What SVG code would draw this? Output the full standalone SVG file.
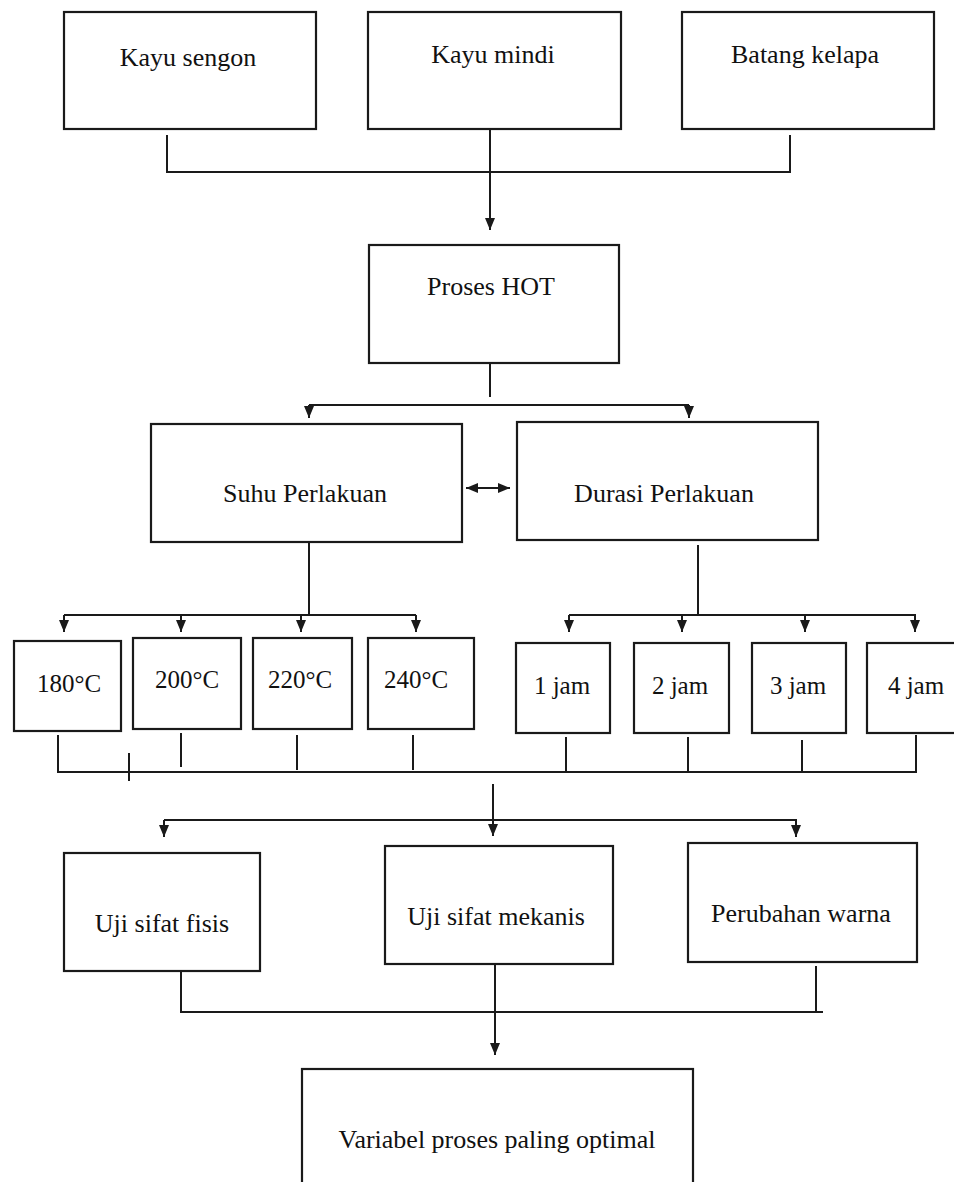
<svg xmlns="http://www.w3.org/2000/svg" width="954" height="1182" viewBox="0 0 954 1182">
<defs>
<marker id="arr" viewBox="0 0 12 10" refX="12" refY="5" markerWidth="12" markerHeight="10" markerUnits="userSpaceOnUse" orient="auto-start-reverse">
<path d="M0,0 L12,5 L0,10 z" fill="#1a1a1a"/>
</marker>
<style>
.box{fill:#fff;stroke:#1a1a1a;stroke-width:2.2}
.ln{fill:none;stroke:#1a1a1a;stroke-width:2}
.ar{fill:none;stroke:#1a1a1a;stroke-width:2;marker-end:url(#arr)}
.t{font-family:"Liberation Serif","Times New Roman",serif;font-size:26px;fill:#111;text-anchor:middle}
.s{font-family:"Liberation Serif","Times New Roman",serif;font-size:25px;fill:#111;text-anchor:middle}
</style>
</defs>
<rect width="954" height="1182" fill="#fff"/>
<g id="connectors">
<path class="ln" d="M167,135 V172 H790 V135"/>
<path class="ar" d="M490,129 V230"/>
<path class="ln" d="M490,363 V397"/>
<path class="ln" d="M309,405 H689"/>
<path class="ar" d="M309,405 V418"/>
<path class="ar" d="M689,405 V418"/>
<path class="ln" d="M466,488 H510" marker-start="url(#arr)" marker-end="url(#arr)"/>
<path class="ln" d="M309,542 V615"/>
<path class="ln" d="M64,615 H416"/>
<path class="ar" d="M64,615 V632"/>
<path class="ar" d="M181,615 V632"/>
<path class="ar" d="M301,615 V632"/>
<path class="ar" d="M416,615 V632"/>
<path class="ln" d="M698,545 V615"/>
<path class="ln" d="M569,615 H916"/>
<path class="ar" d="M569,615 V632"/>
<path class="ar" d="M682,615 V632"/>
<path class="ar" d="M805,615 V632"/>
<path class="ar" d="M915,615 V632"/>
<path class="ln" d="M58,735 V772 H916 V735"/>
<path class="ln" d="M181,733 V767"/>
<path class="ln" d="M297,735 V770"/>
<path class="ln" d="M413,735 V770"/>
<path class="ln" d="M566,737 V772"/>
<path class="ln" d="M688,737 V772"/>
<path class="ln" d="M802,740 V772"/>
<path class="ln" d="M129,753 V781"/>
<path class="ar" d="M493,784 V836"/>
<path class="ln" d="M164,820 H797"/>
<path class="ar" d="M164,820 V837"/>
<path class="ar" d="M796,820 V837"/>
<path class="ln" d="M181,971 V1012 H823"/>
<path class="ln" d="M816,966 V1012"/>
<path class="ar" d="M495,964 V1055"/>
</g>
<g id="n-sengon"><rect class="box" x="64" y="12" width="252" height="117"/><text class="t" x="188" y="66">Kayu sengon</text></g>
<g id="n-mindi"><rect class="box" x="368" y="12" width="253" height="117"/><text class="t" x="493" y="63">Kayu mindi</text></g>
<g id="n-kelapa"><rect class="box" x="682" y="12" width="252" height="117"/><text class="t" x="805" y="63">Batang kelapa</text></g>
<g id="n-hot"><rect class="box" x="369" y="245" width="250" height="118"/><text class="t" x="491" y="295">Proses HOT</text></g>
<g id="n-suhu"><rect class="box" x="151" y="424" width="311" height="118"/><text class="t" x="305" y="502">Suhu Perlakuan</text></g>
<g id="n-durasi"><rect class="box" x="517" y="422" width="301" height="118"/><text class="t" x="664" y="502">Durasi Perlakuan</text></g>
<g id="n-180"><rect class="box" x="14" y="641" width="107" height="90"/><text class="s" x="69" y="692">180°C</text></g>
<g id="n-200"><rect class="box" x="133" y="638" width="108" height="91"/><text class="s" x="187" y="688">200°C</text></g>
<g id="n-220"><rect class="box" x="253" y="638" width="99" height="91"/><text class="s" x="300" y="688">220°C</text></g>
<g id="n-240"><rect class="box" x="368" y="638" width="106" height="91"/><text class="s" x="416" y="688">240°C</text></g>
<g id="n-1jam"><rect class="box" x="516" y="643" width="94" height="90"/><text class="s" x="562" y="694">1 jam</text></g>
<g id="n-2jam"><rect class="box" x="634" y="643" width="95" height="90"/><text class="s" x="680" y="694">2 jam</text></g>
<g id="n-3jam"><rect class="box" x="752" y="643" width="94" height="90"/><text class="s" x="798" y="694">3 jam</text></g>
<g id="n-4jam"><rect class="box" x="867" y="643" width="92" height="90"/><text class="s" x="916" y="694">4 jam</text></g>
<g id="n-fisis"><rect class="box" x="64" y="853" width="196" height="118"/><text class="t" x="162" y="932">Uji sifat fisis</text></g>
<g id="n-mekanis"><rect class="box" x="385" y="846" width="228" height="118"/><text class="t" x="496" y="925">Uji sifat mekanis</text></g>
<g id="n-warna"><rect class="box" x="688" y="843" width="229" height="119"/><text class="t" x="801" y="922">Perubahan warna</text></g>
<g id="n-optimal"><rect class="box" x="302" y="1069" width="391" height="130"/><text class="t" x="497" y="1148">Variabel proses paling optimal</text></g>
</svg>
